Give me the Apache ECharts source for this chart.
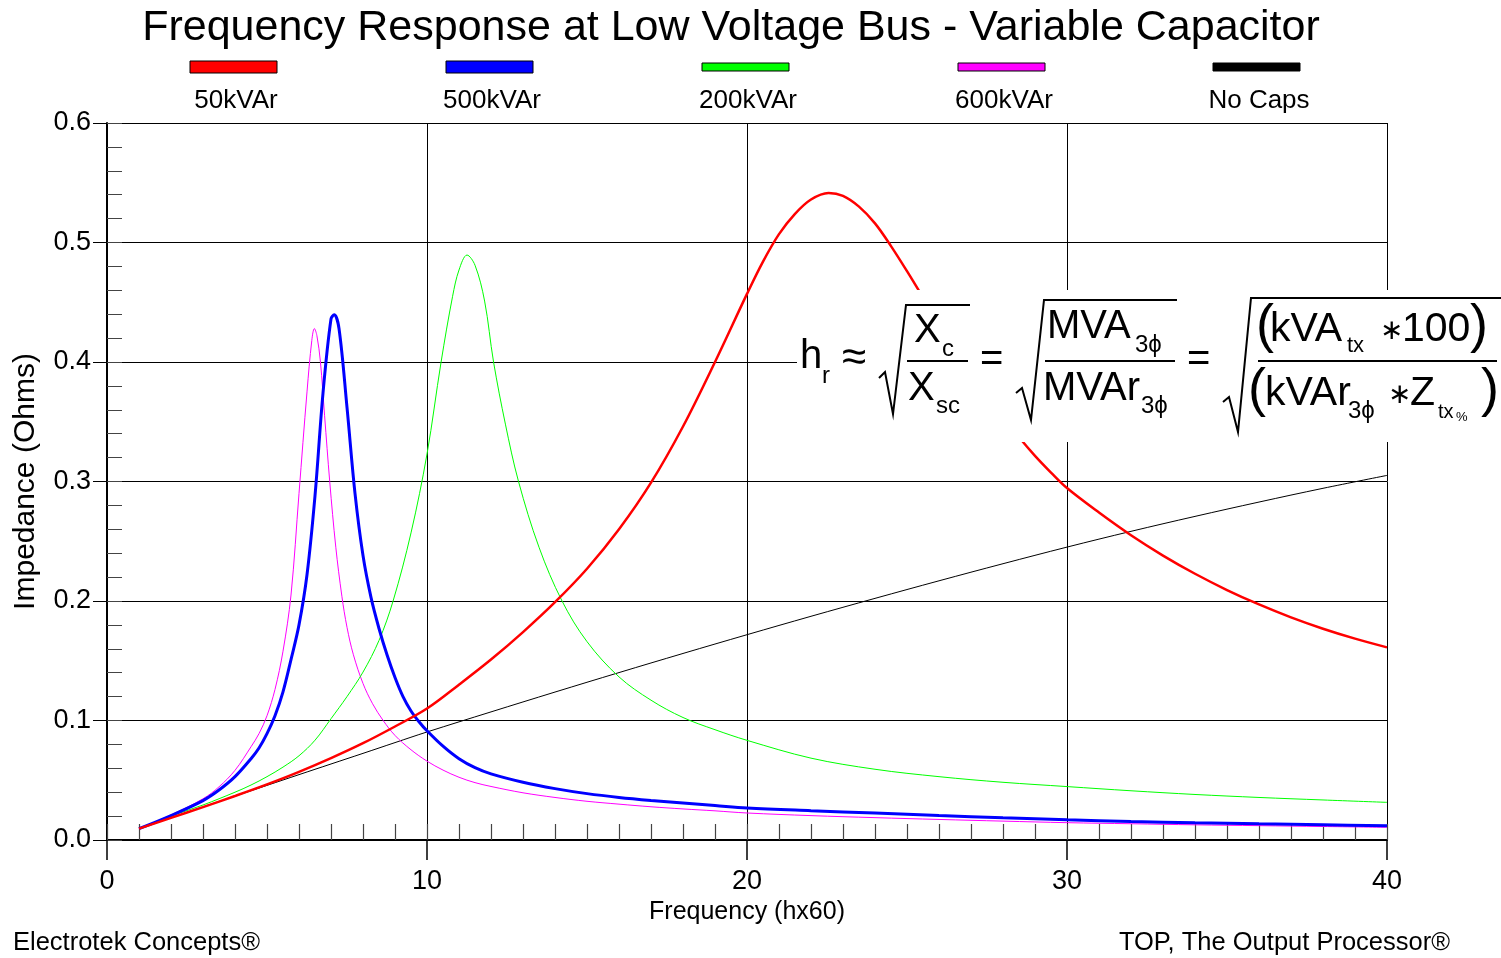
<!DOCTYPE html>
<html>
<head>
<meta charset="utf-8">
<title>Frequency Response at Low Voltage Bus</title>
<script src="https://cdn.jsdelivr.net/npm/echarts@6.0.0/dist/echarts.min.js"></script>
<style>
  html, body { margin: 0; padding: 0; background: #fff; }
  #chart { width: 1501px; height: 958px; }
</style>
</head>
<body>
<div id="chart"></div>
<script>
// values: frequency in harmonic order (h x 60), impedance in ohms
const noCapsF = [1, 2, 3, 4, 5, 6, 7, 8, 9, 10, 12, 14, 16, 18, 20, 22, 24, 26, 28, 30, 32, 34, 36, 38, 40];
const noCapsZ = [0.0095, 0.0186, 0.0277, 0.0367, 0.0457, 0.0547, 0.0636, 0.0725, 0.0815, 0.0904, 0.1072, 0.1238, 0.1401, 0.1561, 0.1718, 0.1872, 0.2022, 0.2169, 0.2312, 0.2451, 0.2583, 0.2708, 0.2828, 0.2943, 0.3051];

const cap600F = [1, 2, 3, 3.5, 4, 4.5, 4.75, 5, 5.25, 5.5, 5.75, 6, 6.25, 6.4, 6.48, 6.56, 6.67, 6.8, 6.96, 7.15, 7.34, 7.5, 7.7, 8.0, 8.3, 8.63, 9.0, 9.5, 10, 10.5, 11, 11.5, 12, 13, 14, 15, 16, 17, 18, 19, 20, 22, 24, 26, 28, 30, 32, 34, 36, 38, 40];
const cap600Z = [0.0095, 0.021, 0.0345, 0.0445, 0.0583, 0.078, 0.089, 0.104, 0.126, 0.158, 0.205, 0.290, 0.375, 0.418, 0.428, 0.422, 0.400, 0.355, 0.300, 0.245, 0.204, 0.178, 0.155, 0.131, 0.114, 0.100, 0.0875, 0.0755, 0.066, 0.0585, 0.0525, 0.048, 0.0448, 0.0395, 0.0356, 0.0324, 0.030, 0.0278, 0.026, 0.0244, 0.0226, 0.0204, 0.0187, 0.0172, 0.0158, 0.0145, 0.0136, 0.0127, 0.012, 0.0113, 0.0106];

const cap200F = [1, 2, 3, 4, 4.5, 5, 5.5, 6, 6.5, 7, 7.5, 8, 8.5, 8.94, 9.5, 10, 10.44, 10.8, 11, 11.25, 11.5, 11.8, 12.08, 12.45, 12.86, 13.5, 14.22, 15, 16, 17, 18, 19, 20, 22, 24, 26, 28, 30, 32, 34, 36, 38, 40];
const cap200Z = [0.0095, 0.020, 0.0293, 0.040, 0.046, 0.053, 0.061, 0.0705, 0.0835, 0.1015, 0.120, 0.1405, 0.167, 0.200, 0.257, 0.323, 0.400, 0.455, 0.477, 0.4895, 0.481, 0.451, 0.400, 0.348, 0.300, 0.245, 0.200, 0.166, 0.1365, 0.117, 0.1025, 0.0923, 0.0834, 0.0685, 0.0592, 0.053, 0.0483, 0.0447, 0.0412, 0.0381, 0.0356, 0.0335, 0.0315];

const cap500F = [1, 2, 3, 3.5, 4, 4.5, 4.75, 5, 5.25, 5.5, 5.75, 6, 6.25, 6.5, 6.75, 7, 7.1, 7.25, 7.5, 7.75, 8, 8.25, 8.5, 8.75, 9, 9.25, 9.5, 9.75, 10, 10.5, 11, 11.5, 12, 13, 14, 15, 16, 17, 18, 19, 20, 22, 24, 26, 28, 30, 32, 34, 36, 38, 40];
const cap500Z = [0.0095, 0.0205, 0.033, 0.0418, 0.053, 0.068, 0.077, 0.089, 0.104, 0.124, 0.151, 0.180, 0.222, 0.288, 0.374, 0.436, 0.4395, 0.428, 0.362, 0.290, 0.238, 0.203, 0.177, 0.155, 0.136, 0.120, 0.108, 0.099, 0.0914, 0.0785, 0.068, 0.0605, 0.0553, 0.0483, 0.043, 0.0388, 0.0356, 0.0331, 0.031, 0.0289, 0.0268, 0.0245, 0.0225, 0.0205, 0.0186, 0.0169, 0.0155, 0.0144, 0.0135, 0.0127, 0.012];

const cap50F = [1, 2, 3, 4, 5, 6, 7, 8, 9, 10, 11, 12, 13, 14, 15, 16, 17, 18, 19, 20, 20.5, 21, 21.5, 22, 22.55, 23, 23.5, 24, 24.5, 25, 25.5, 26, 26.5, 27, 27.5, 28, 28.5, 29, 29.5, 30, 31, 32, 33, 34, 35, 36, 37, 38, 39, 40];
const cap50Z = [0.0095, 0.0185, 0.0275, 0.0368, 0.0465, 0.057, 0.0685, 0.081, 0.095, 0.110, 0.130, 0.151, 0.174, 0.199, 0.227, 0.260, 0.299, 0.346, 0.400, 0.457, 0.484, 0.507, 0.524, 0.536, 0.5415, 0.539, 0.530, 0.516, 0.497, 0.476, 0.454, 0.432, 0.411, 0.391, 0.372, 0.354, 0.337, 0.3215, 0.3075, 0.2945, 0.274, 0.255, 0.238, 0.2228, 0.2092, 0.1971, 0.1863, 0.1768, 0.1685, 0.1612];

const legendNames = ["50kVAr", "500kVAr", "200kVAr", "600kVAr", "No Caps"];
const xTicks = [0, 10, 20, 30, 40];
const yTicks = [0, 0.1, 0.2, 0.3, 0.4, 0.5, 0.6];

const FONT = "'Liberation Sans', Arial, Helvetica, sans-serif";

function pairs(f, z) {
  return f.map((v, i) => [v, z[i]]);
}

function txt(x, y, s, size, align) {
  return {
    type: "text", x: x, y: y, z: 101,
    style: { text: s, fontSize: size, fontFamily: FONT, fill: "#000", align: align || "left", verticalAlign: "middle" }
  };
}
function rad(points) {
  return { type: "polyline", z: 101, shape: { points: points }, style: { stroke: "#000", lineWidth: 2, fill: null } };
}
function hbar(x1, x2, y) {
  return { type: "line", z: 101, shape: { x1: x1, y1: y, x2: x2, y2: y }, style: { stroke: "#000", lineWidth: 2 } };
}
function legendBox(x, y, h, color, label) {
  return [
    { type: "rect", z: 50, shape: { x: x, y: y, width: 87, height: h }, style: { fill: color, stroke: "#000", lineWidth: 1 } },
    txt(x + 46, 101, label, 26, "center")
  ];
}

const chart = echarts.init(document.getElementById("chart"));

const lineColors = { cap50: "#ff0000", cap500: "#0000ff", cap200: "#00ff00", cap600: "#ff00ff", noCaps: "#000000" };

// white panel with the resonance formula, drawn over the plot
const formula = [
  { type: "rect", z: 100, shape: { x: 797, y: 290, width: 704, height: 152 }, style: { fill: "#fff" } },
  txt(800, 357, "h", 40), txt(822, 376, "r", 24),
  txt(842, 359, "≈", 44),
  rad([[879, 378], [885, 372], [893, 414], [906, 305], [970, 305]]),
  txt(914, 331, "X", 40), txt(942, 349, "c", 24),
  hbar(907, 968, 361),
  txt(908, 389, "X", 40), txt(936, 406, "sc", 24),
  txt(980, 360, "=", 40),
  rad([[1016, 393], [1022, 388], [1031, 420], [1044, 300], [1177, 300]]),
  txt(1047, 327, "MVA", 40), txt(1135, 345, "3ϕ", 24),
  hbar(1045, 1175, 361),
  txt(1043, 389, "MVAr", 40), txt(1141, 406, "3ϕ", 24),
  txt(1187, 360, "=", 40),
  rad([[1223, 402], [1229, 397], [1238, 432], [1251, 298], [1501, 298]]),
  txt(1256, 327, "(", 54), txt(1270, 330, "kVA", 41), txt(1347, 346, "tx", 22),
  txt(1380, 331, "∗", 28), txt(1402, 330, "100", 41), txt(1470, 327, ")", 54),
  hbar(1258, 1497, 361),
  txt(1248, 391, "(", 54), txt(1265, 394, "kVAr", 41), txt(1348, 411, "3ϕ", 24),
  txt(1388, 395, "∗", 28), txt(1410, 394, "Z", 41), txt(1438, 412, "tx", 20), txt(1456, 417, "%", 13),
  txt(1481, 391, ")", 54)
];

const graphics = [].concat(
  [txt(731, 28, "Frequency Response at Low Voltage Bus - Variable Capacitor", 43, "center")],
  legendBox(190, 61, 12, lineColors.cap50, legendNames[0]),
  legendBox(446, 61, 12, lineColors.cap500, legendNames[1]),
  legendBox(702, 63, 8, lineColors.cap200, legendNames[2]),
  legendBox(958, 63, 8, lineColors.cap600, legendNames[3]),
  legendBox(1213, 63, 8, lineColors.noCaps, legendNames[4]),
  [txt(13, 943, "Electrotek Concepts®", 25.5), txt(1450, 943, "TOP, The Output Processor®", 25.5, "right")],
  formula
);

function lineSeries(name, f, z, color, width) {
  return {
    name: name, type: "line", xAxisIndex: 0, yAxisIndex: 0,
    data: pairs(f, z), showSymbol: false, smooth: 0.35,
    lineStyle: { color: color, width: width }, itemStyle: { color: color }
  };
}

const option = {
  animation: false,
  backgroundColor: "#fff",
  textStyle: { fontFamily: FONT },
  grid: { left: 107, right: 114, top: 123, bottom: 118 },
  xAxis: [
    {
      type: "value", min: xTicks[0], max: xTicks[xTicks.length - 1], interval: 10,
      name: "Frequency (hx60)", nameLocation: "middle", nameGap: 60,
      nameTextStyle: { fontSize: 25, color: "#000", fontFamily: FONT },
      axisLine: { lineStyle: { color: "#000", width: 2 } },
      axisTick: { length: 20, lineStyle: { color: "#000", width: 1.5 } },
      axisLabel: { fontSize: 27, color: "#000", margin: 28, fontFamily: FONT },
      splitLine: { show: true, lineStyle: { color: "#000", width: 1 } }
    },
    {
      // minor ticks, drawn inward
      type: "value", min: 0, max: 40, interval: 1, position: "bottom",
      axisLine: { show: false },
      axisTick: { inside: true, length: 16, lineStyle: { color: "#444", width: 1.2 } },
      axisLabel: { show: false }, splitLine: { show: false }
    }
  ],
  yAxis: [
    {
      type: "value", min: yTicks[0], max: yTicks[yTicks.length - 1], interval: 0.1,
      name: "Impedance (Ohms)", nameLocation: "middle", nameGap: 66,
      nameTextStyle: { fontSize: 30, color: "#000", fontFamily: FONT },
      axisLine: { show: true, lineStyle: { color: "#000", width: 2 } },
      axisTick: { show: true, length: 14, lineStyle: { color: "#000", width: 1 } },
      axisLabel: { fontSize: 27, color: "#000", margin: 16, fontFamily: FONT, formatter: v => v.toFixed(1) },
      splitLine: { show: true, lineStyle: { color: "#000", width: 1 } }
    },
    {
      type: "value", min: 0, max: 0.6, interval: 0.02, position: "left",
      axisLine: { show: false },
      axisTick: { show: true, inside: true, length: 15, lineStyle: { color: "#444", width: 1 } },
      axisLabel: { show: false }, splitLine: { show: false }
    }
  ],
  series: [
    lineSeries(legendNames[4], noCapsF, noCapsZ, lineColors.noCaps, 1),
    lineSeries(legendNames[3], cap600F, cap600Z, lineColors.cap600, 1),
    lineSeries(legendNames[2], cap200F, cap200Z, lineColors.cap200, 1),
    lineSeries(legendNames[1], cap500F, cap500Z, lineColors.cap500, 3),
    lineSeries(legendNames[0], cap50F, cap50Z, lineColors.cap50, 2.5)
  ],
  graphic: { elements: graphics }
};

chart.setOption(option);
</script>
</body>
</html>
